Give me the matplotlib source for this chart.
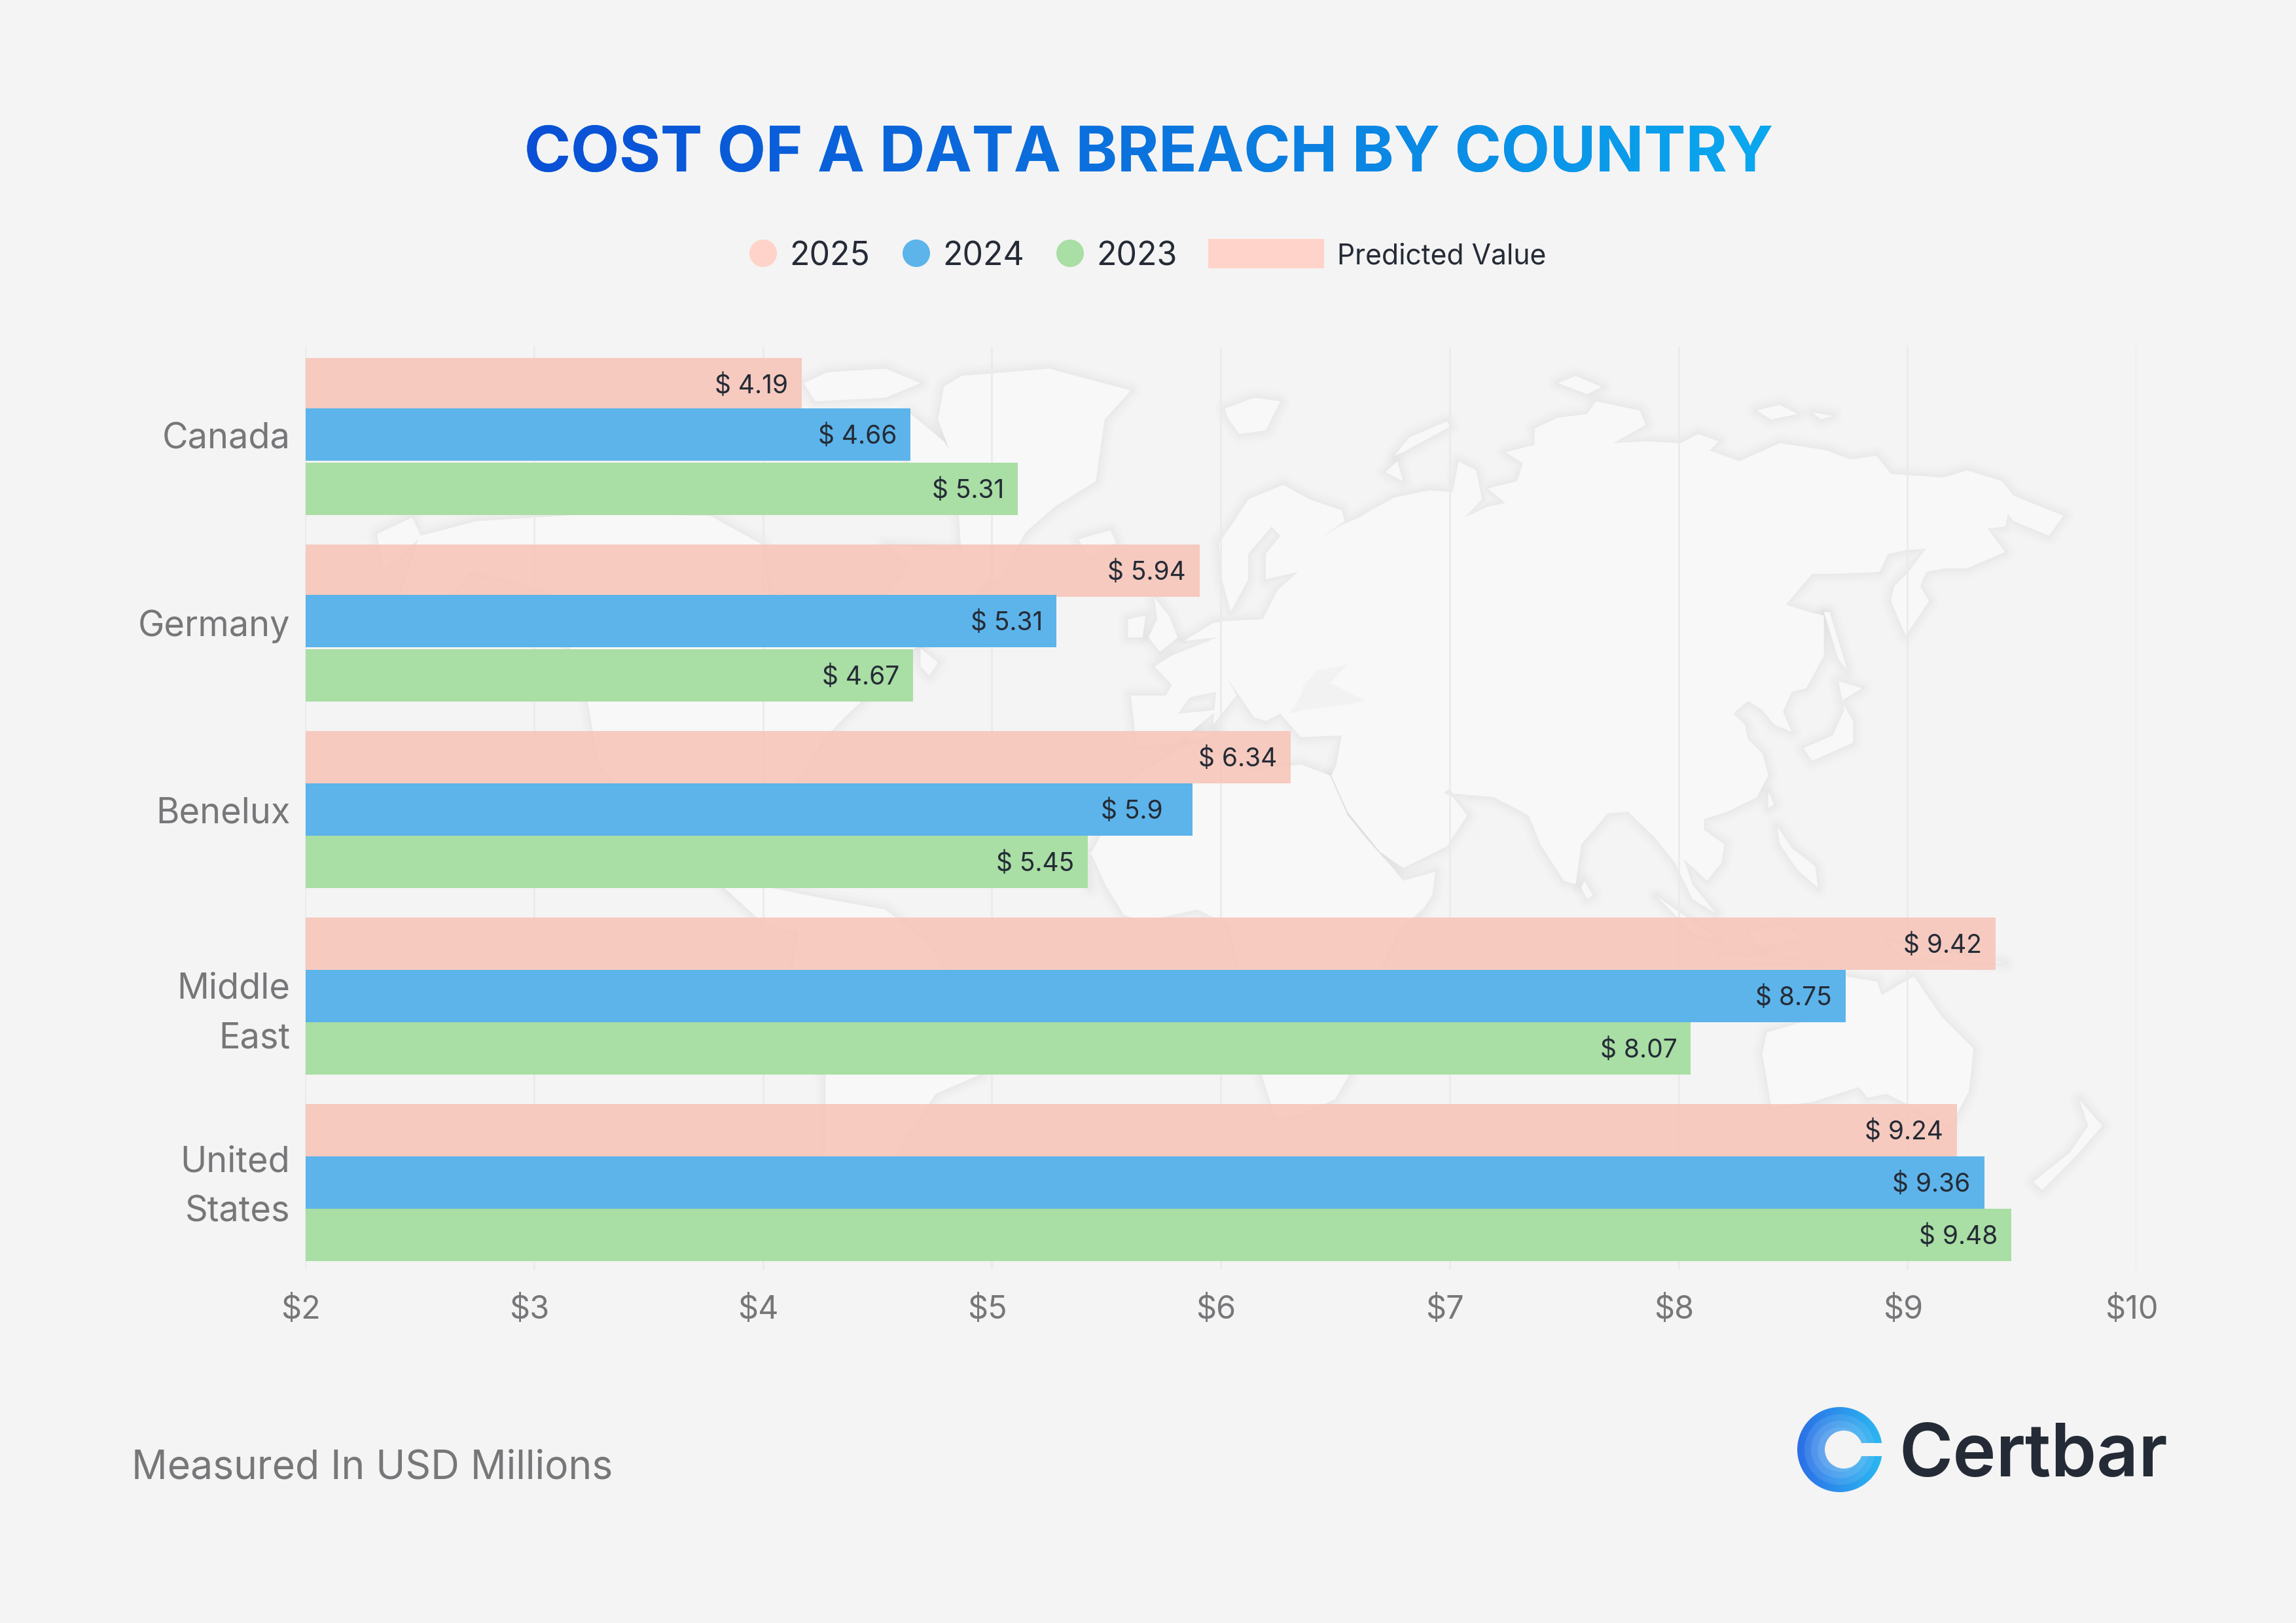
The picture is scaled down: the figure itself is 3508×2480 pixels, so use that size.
import numpy as np
import matplotlib
matplotlib.use("Agg")
import matplotlib.pyplot as plt
from matplotlib.patches import Polygon, Circle, Rectangle, PathPatch
from matplotlib.textpath import TextPath
from matplotlib.font_manager import FontProperties
from matplotlib.transforms import Affine2D, ScaledTranslation
from matplotlib.colors import LinearSegmentedColormap

# ---------- data ----------
countries = ["Canada", "Germany", "Benelux", "Middle\nEast", "United\nStates"]
labels_2025 = [4.19, 5.94, 6.34, 9.42, 9.24]
labels_2024 = [4.66, 5.31, 5.9, 8.75, 9.36]
labels_2023 = [5.31, 4.67, 5.45, 8.07, 9.48]
# bar lengths as measured on the picture (the Canada 2023 bar stops short of its printed 5.31)
bars_2025 = [4.18, 5.93, 6.33, 9.43, 9.26]
bars_2024 = [4.66, 5.30, 5.90, 8.77, 9.38]
bars_2023 = [5.13, 4.67, 5.44, 8.09, 9.50]
years = ["2025", "2024", "2023"]
ticks = [2, 3, 4, 5, 6, 7, 8, 9, 10]
tick_labels = ["$2", "$3", "$4", "$5", "$6", "$7", "$8", "$9", "$10"]
title = "COST OF A DATA BREACH BY COUNTRY"
note = "Measured In USD Millions"
brand = "Certbar"
predicted = "Predicted Value"

W, H = 3508, 2480
BG = "#F4F4F4"
SALMON = "#F7C6BA"
BLUE = "#5CB4EA"
GREEN = "#A9DEA4"
DARK = "#252B36"
GREY = "#77777A"
FONT = "Inter"

fig = plt.figure(figsize=(W / 100, H / 100), dpi=100, facecolor=BG)


def axes_px(l, t, r, b, **kw):
    return fig.add_axes([l / W, 1 - b / H, (r - l) / W, (b - t) / H], **kw)


deco = axes_px(0, 0, W, H, zorder=0)
deco.set_xlim(0, W)
deco.set_ylim(H, 0)
deco.axis("off")


# ---------- world map watermark: rough decorative outline ----------
def z1(p):
    return [(1800 + x / 1.12, 530 + y / 1.802) for x, y in p]


def z2(p):
    return [(460 + x / 1.12, 530 + y / 1.802) for x, y in p]


def z3(p):
    return [(1100 + x / 0.7127, 1300 + y / 2.45) for x, y in p]


eurasia = (
    z1([(180,380),(225,420),(280,450),(285,480),(245,525),(280,490),(310,470),(330,450),(370,415),(430,395),(470,400),(480,315),(510,340),(520,420),(490,470),(530,440),(560,430),(530,390),(580,370),(590,320),(560,290),(610,270),(610,225),(650,195),(700,185),(715,150),(790,175),(800,215),(745,265),(800,260),(860,265),(890,240),(925,260),(910,285),(960,315),(1030,265),(1110,285),(1150,310),(1195,300),(1220,350),(1310,360),(1350,340),(1410,370),(1430,410),(1515,465),(1490,520),(1430,480),(1420,460),(1415,495),(1385,500),(1415,565),(1350,610),(1310,610),(1280,620),(1270,660),(1285,700),(1245,795),(1220,700),(1225,660),(1250,620),(1280,555),(1245,560),(1215,570),(1200,620),(1120,625),(1085,625),(1040,710),(1080,730),(1105,740),(1105,850),(1075,940),(1050,950),(1035,1005),(1050,1060),(1020,1040),(1000,1000),(975,975),(950,1010),(970,1040),(975,1080),(1000,1120),(1010,1180),(990,1240),(940,1280),(900,1300),(900,1330),(935,1370),(930,1420),(905,1470),(865,1410),(880,1480),(920,1560),(880,1520),(850,1420),(815,1350),(770,1280),(735,1285),(690,1370),(680,1480),(660,1470),(620,1370),(600,1290),(570,1265),(540,1240),(470,1230),(465,1215),(430,1260),(395,1175),(420,1200),(470,1240),(495,1290),(460,1375),(385,1435),(345,1390),(290,1280),(262,1180),(270,1155),(280,1070),(210,1075),(175,1010),(150,1030),(130,1020),(85,915),(100,960),(60,1040),(65,950),(20,965),(0,1010)])
    + z2([(1568,1000),(1500,1090),(1430,1100),(1420,960),(1480,960),(1490,930),(1460,880),(1490,850),(1568,800)])
    + z1([(10,810),(60,760),(80,755),(145,750),(170,670),(205,620),(150,640),(150,570),(175,520),(160,495),(120,570),(120,640),(90,730),(75,640),(70,540),(100,470),(120,420)])
)
africa = (
    z1([(260,1180),(290,1290),(320,1350),(370,1440),(385,1470),(440,1445),(435,1510),(410,1568)])
    + z3([(770,200),(740,300),(725,400),(720,440),(700,700),(685,840),(670,930),(620,1005),(605,1000),(590,840),(565,440),(555,280),(520,220),(460,265),(440,240),(420,130),(403,0)])
    + z2([(1350,1490),(1350,1400),(1420,1190),(1500,1110),(1568,1060)])
    + z1([(0,1060),(60,1120),(130,1165),(210,1150)])
)
land = [
    eurasia,
    africa,
    z2([(130,515),(190,470),(205,520),(300,480),(500,460),(700,465),(790,545),(800,680),(1000,690),(1040,600),(1000,545),(1130,560),(1180,640),(1050,830),(950,990),(930,1020),(895,1080),(850,1195),(820,1300),(720,1300),(760,1480),(800,1550),(740,1490),(650,1330),(530,1190),(510,1150),(490,975),(430,680),(350,640),(290,620),(260,680),(170,680),(200,530),(140,620)]),
    z3([(5,140),(50,135),(115,180),(180,220),(225,340),(245,440),(330,640),(285,835),(235,910),(190,1140),(130,1500),(115,1140),(115,840),(70,640),(85,300),(50,280)]),
    z3([(1225,470),(1260,490),(1265,540),(1300,470),(1330,620),(1365,740),(1360,900),(1340,1030),(1270,910),(1250,925),(1240,885),(1190,940),(1145,960),(1135,760),(1140,680),(1180,640),(1225,580)]),
    z3([(1480,930),(1505,1030),(1480,1130),(1440,1270),(1430,1240),(1470,1130),(1490,1030)]),
    z2([(860,100),(900,70),(1000,60),(1060,100),(1000,140),(880,150)]),
    z2([(1040,180),(1100,260),(1125,320),(1040,320)]),
    z2([(1100,110),(1130,80),(1280,60),(1420,120),(1375,200),(1360,370),(1290,440),(1240,510),(1195,640),(1175,640),(1130,570),(1120,330),(1090,200)]),
    z2([(1330,530),(1385,505),(1395,540),(1350,580)]),
    z2([(1460,690),(1485,740),(1500,800),(1470,840),(1450,800),(1465,750)]),
    z2([(1415,750),(1445,740),(1440,800),(1415,800)]),
    z2([(1060,830),(1090,870),(1075,905),(1060,880)]),
    z1([(695,1470),(710,1510),(700,1520),(690,1490)]),
    z1([(1105,730),(1115,730),(1145,890),(1130,860)]),
    z1([(1130,920),(1170,940),(1135,975),(1155,1030),(1155,1090),(1085,1140),(1070,1105),(1120,1070),(1140,1000)]),
    z1([(1010,1225),(1020,1260),(1010,1270)]),
    z1([(1025,1320),(1050,1380),(1090,1430),(1095,1490),(1060,1440),(1030,1370)]),
    z1([(80,170),(130,140),(175,150),(150,230),(105,240),(85,195)]),
    z1([(460,205),(395,250),(370,300),(385,290),(465,220)]),
    z1([(355,345),(375,315),(385,370)]),
    z1([(650,100),(680,80),(725,110),(700,130)]),
    z1([(990,175),(1030,160),(1060,185),(1015,200)]),
    z1([(1085,180),(1120,190),(1100,200)]),
    z3([(1020,170),(1090,340),(1060,310)]),
    z3([(1160,280),(1180,330),(1130,360),(1120,300)]),
    z3([(1090,390),(1200,420),(1090,410)]),
    z3([(1270,340),(1400,420),(1290,400)]),
    z3([(735,640),(750,620),(755,660),(740,720),(725,710)]),
]
for lw in (22, 16, 11, 7, 4):
    for pts in land:
        deco.add_patch(Polygon(pts, closed=True, fc="none", ec="black", lw=lw, alpha=0.009, joinstyle="round"))
for pts in land:
    deco.add_patch(Polygon(pts, closed=True, fc="#F8F8F8", ec="none"))
for sea in (z1([(215,930),(240,890),(290,875),(260,925),(320,975),(290,985),(215,1000),(190,1010),(210,960)]),):
    deco.add_patch(Polygon(sea, closed=True, fc="#F2F2F2", ec="none"))

# ---------- grid and tick labels ----------
gx = axes_px(466, 530, 3264, 1940, zorder=1)
gx.patch.set_visible(False)
gx.set_xlim(2, 10)
gx.set_ylim(0, 1)
gx.set_yticks([])
for s in gx.spines.values():
    s.set_visible(False)
gx.set_xticks(ticks)
gx.set_xticklabels(tick_labels, fontsize=35, color=GREY, family=FONT)
gx.tick_params(axis="x", length=0, pad=28)
gx.grid(axis="x", color="#EBEBEB", lw=2.0)
gx.set_axisbelow(True)
off = ScaledTranslation(-7 / 100, 0, fig.dpi_scale_trans)
for lab in gx.get_xticklabels():
    lab.set_transform(lab.get_transform() + off)

# ---------- bars ----------
ax = axes_px(467, 531, 467 + 8 * 347.5, 1941, zorder=2)
ax.patch.set_visible(False)
ax.set_xlim(2, 10)
unit = 285.0
ax.set_ylim((1940 - 666) / unit, (530 - 666) / unit)
for s in ax.spines.values():
    s.set_visible(False)
ax.set_xticks([])
y = np.arange(len(countries))
ax.set_yticks(y)
ax.set_yticklabels(countries, fontsize=39, color=GREY, family=FONT,
                   linespacing=1.62, ha="right", multialignment="right")
ax.tick_params(axis="y", length=0, pad=17)
for lab, dy in zip(ax.get_yticklabels(), (2, 0, 0, -9, 11)):
    lab.set_transform(lab.get_transform() + ScaledTranslation(0, dy / 100, fig.dpi_scale_trans))

h = 80 / unit
nudge = np.array([-3, -3, 0, 0, 0]) / unit
series = [
    (bars_2025, labels_2025, SALMON, 0.9, y - h),
    (bars_2024, labels_2024, BLUE, 1.0, y + nudge),
    (bars_2023, labels_2023, GREEN, 1.0, y + h),
]
for vals, labs, col, al, pos in series:
    ax.barh(pos, np.array(vals) - 2, left=2, height=h, color=col, alpha=al, lw=0)
    for v, lab, p in zip(vals, labs, pos):
        # the one-decimal label sits further inside its bar in the reference
        dx = -33 if lab == 5.9 else -15
        ax.annotate(f"$ {lab:g}", (v, p), xytext=(dx, -2), textcoords="offset points",
                    ha="right", va="center", fontsize=28, color=DARK, family=FONT)

# ---------- title with gradient fill ----------
TITLE_SIZE = 69.2
TX, TY = 801, 262
deco.text(TX, TY, title, fontsize=TITLE_SIZE, fontweight="bold", family=FONT,
          color="#0C7BE0", ha="left", va="baseline")
fp = FontProperties(family=FONT, weight="bold")
tp = TextPath((0, 0), title, size=TITLE_SIZE, prop=fp)
s = 100 / 72
clip = PathPatch(tp, transform=Affine2D().scale(s, -s).translate(TX, TY) + deco.transData,
                 fc="none", ec="none")
deco.add_patch(clip)
cmap_t = LinearSegmentedColormap.from_list("t", ["#0A4FD6", "#0C74DE", "#0AA9EF"])
grad = np.linspace(0, 1, 512)[None, :]
im = deco.imshow(grad, cmap=cmap_t, extent=(795, 2715, 280, 170), aspect="auto", zorder=3)
im.set_clip_path(clip)
deco.set_xlim(0, W)
deco.set_ylim(H, 0)

# ---------- legend ----------
leg_y = 387
for cx, tx, col, yr in zip((1166, 1400, 1635), (1206, 1440, 1675), ("#FFD3C9", BLUE, GREEN), years):
    deco.add_patch(Circle((cx, leg_y), 21, fc=col, ec="none"))
    deco.text(tx, leg_y, yr, fontsize=36, color=DARK, family=FONT, ha="left", va="center_baseline")
deco.add_patch(Rectangle((1846, 365), 177, 45, fc="#FFD3C9", ec="none"))
deco.text(2043, leg_y, predicted, fontsize=30.7, color=DARK, family=FONT, ha="left", va="center_baseline")

# ---------- footer ----------
deco.text(201, 2237, note, fontsize=43.6, color=GREY, family=FONT, ha="left", va="center_baseline")

# logo
cx, cy, R = 2811, 2215, 65
disc = Circle((cx, cy), R, transform=deco.transData, fc="none", ec="none")
deco.add_patch(disc)
cmap_l = LinearSegmentedColormap.from_list("l", ["#2B6FE6", "#2BB8F2"])
im2 = deco.imshow(grad, cmap=cmap_l, extent=(cx - R, cx + R, cy + R, cy - R), aspect="auto", zorder=3)
im2.set_clip_path(disc)
for rad in (54, 44, 34):
    deco.add_patch(Circle((cx, cy), rad, fc="white", ec="none", alpha=0.10, zorder=4))
deco.add_patch(Circle((cx + 6, cy), 29, fc=BG, ec="none", zorder=5))
deco.add_patch(Rectangle((cx + 6, cy - 10), R, 20, fc=BG, ec="none", zorder=5))
deco.set_xlim(0, W)
deco.set_ylim(H, 0)
deco.text(2901, 2256, brand, fontsize=80.5, color=DARK, family=FONT, fontweight="semibold",
          ha="left", va="baseline", zorder=6)

fig.savefig("out.png", dpi=100, facecolor=BG)
